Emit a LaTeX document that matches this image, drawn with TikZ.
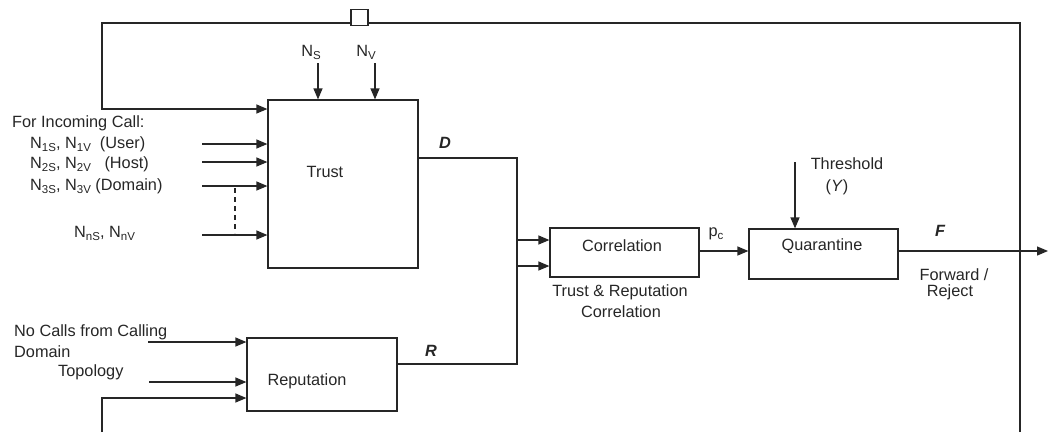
\documentclass[tikz,border=0pt]{standalone}
\usepackage{fontspec}
\setmainfont{Liberation Sans}
\usetikzlibrary{arrows.meta}
% small lowered index letters, as in N_{1S}
\newcommand\lowidx[1]{\raisebox{-0.35ex}{\fontsize{11.5}{11.5}\selectfont #1}}
\begin{document}
\begin{tikzpicture}[x=1pt,y=-1pt,
  wire/.style={line width=1.2pt, draw=black!85},
  arr/.style={wire, -{Triangle[length=11pt,width=9pt]}},
  blk/.style={draw=black!85, line width=1.2pt, rectangle, inner sep=0pt},
  txt/.style={inner sep=0pt, font=\fontsize{16.3}{19}\selectfont, text=black!85},
  lt/.style={txt, anchor=west},
  bi/.style={txt, font=\fontsize{16.3}{19}\selectfont\bfseries\itshape},
  ]
\useasboundingbox (0,0) rectangle (1054,432);

% blocks
\node[blk, minimum width=150pt, minimum height=168pt] (trust) at (343,184) {};
\node[blk, minimum width=150pt, minimum height=73pt] (rep) at (322,374.5) {};
\node[blk, minimum width=149pt, minimum height=49pt] (corr) at (624.5,252.5) {};
\node[blk, minimum width=149pt, minimum height=50pt] (quar) at (823.5,254) {};
\node[blk, minimum width=17pt, minimum height=16pt] (jump) at (359.5,17.5) {};

\node[txt] (trustlbl) at (325,172) {Trust};
\node[txt] (replbl) at (307,381) {Reputation};
\node[txt] (corrlbl) at (622,246) {Correlation};
\node[txt] (quarlbl) at (822,246) {Quarantine};

% helper points
\coordinate (top) at (0,23);
\coordinate (lp) at (102,109);
\coordinate (fbR) at (1020,432);
\coordinate (fbL) at (102,432);
\coordinate (lb) at (102,398);
\coordinate (in1) at (202,144);
\coordinate (in2) at (202,162);
\coordinate (in3) at (202,186);
\coordinate (in4) at (202,235);
\coordinate (dsA) at (235,188);
\coordinate (dsB) at (235,233);
\coordinate (ns) at (318,63);
\coordinate (nv) at (375,63);
\coordinate (dj) at (517,158);
\coordinate (rj) at (517,364);
\coordinate (c1) at (517,240);
\coordinate (c2) at (517,266);
\coordinate (pc) at (0,251);
\coordinate (th) at (795,162);
\coordinate (out) at (1048,251);
\coordinate (r1) at (148,342);
\coordinate (r2) at (149,382);

% feedback loop
\draw[wire] (fbR) |- (jump.east |- top);
\draw[arr] (jump.west |- top) -| (lp) -- (lp -| trust.west);
\draw[arr] (fbL) -- (lb) -- (lb -| rep.west);

% trust inputs
\foreach \p in {in1,in2,in3,in4} \draw[arr] (\p) -- (\p -| trust.west);
\draw[wire, dash pattern=on 5pt off 4pt] (dsA) -- (dsB);
\draw[arr] (ns) -- (ns |- trust.north);
\draw[arr] (nv) -- (nv |- trust.north);

% reputation inputs
\draw[arr] (r1) -- (r1 -| rep.west);
\draw[arr] (r2) -- (r2 -| rep.west);

% D and R into correlation
\draw[wire] (dj -| trust.east) -- (dj) -- (rj) -- (rj -| rep.east);
\draw[arr] (c1) -- (c1 -| corr.west);
\draw[arr] (c2) -- (c2 -| corr.west);

% correlation to quarantine, output
\draw[arr] (corr.east |- pc) -- (quar.west |- pc);
\draw[arr] (th) -- (th |- quar.north);
\draw[arr] (quar.east |- out) -- (out);

% texts
\node[lt] (t0) at (12,123) {For Incoming Call:};
\node[lt] (t1) at (30,144) {N\lowidx{1S}, N\lowidx{1V}\ \ (User)};
\node[lt] (t2) at (30,164) {N\lowidx{2S}, N\lowidx{2V}\ \ \ (Host)};
\node[lt] (t3) at (30,186) {N\lowidx{3S}, N\lowidx{3V} (Domain)};
\node[lt] (tn) at (74,233) {N\lowidx{nS}, N\lowidx{nV}};
\node[txt] (nsl) at (311,52) {N\lowidx{S}};
\node[txt] (nvl) at (366,52) {N\lowidx{V}};
\node[bi] (dl) at (445,143) {D};
\node[bi] (rl) at (431,351) {R};
\node[bi] (fl) at (940,231) {F};
\node[txt] (pcl) at (716,234) {p\lowidx{c}};
\node[txt] (thl) at (847,164) {Threshold};
\node[txt] (yl) at (837,187) {(\textit{Y})};
\node[txt] (trl1) at (620,292) {Trust \& Reputation};
\node[txt] (trl2) at (621,312) {Correlation};
\node[txt] (fw1) at (954,275) {Forward /};
\node[txt] (fw2) at (950,292) {Reject};
\node[lt] (nc1) at (14,332) {No Calls from Calling};
\node[lt] (nc2) at (14,352) {Domain};
\node[lt] (tp) at (58,372) {Topology};
\end{tikzpicture}
\end{document}
